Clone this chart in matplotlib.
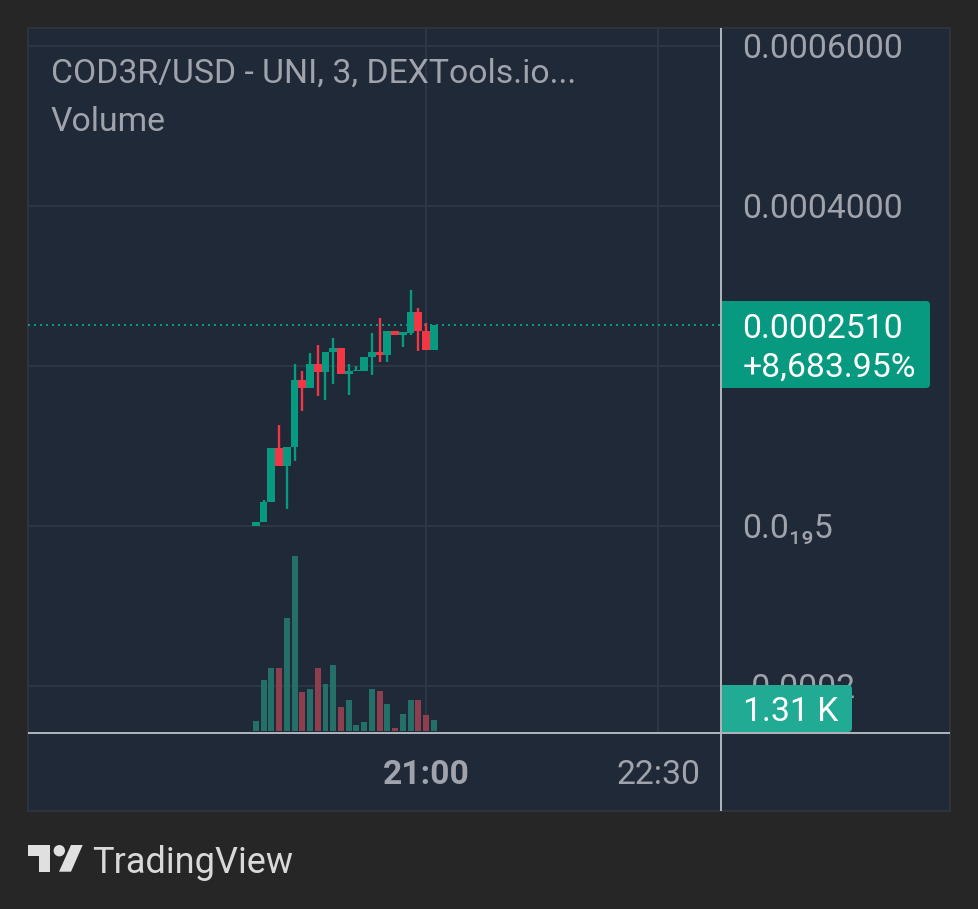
"""
Recreates a TradingView mini chart (COD3R/USD candles and volume).
"""
import matplotlib
matplotlib.use('Agg')
import matplotlib.pyplot as plt
import matplotlib.patches as mpatches

# Candle data, prices in millionths of a USD
times = ['19:54', '19:57', '20:00', '20:03', '20:06', '20:09', '20:12', '20:15',
         '20:18', '20:21', '20:24', '20:27', '20:30', '20:33', '20:36', '20:39',
         '20:42', '20:45', '20:48', '20:51', '20:54', '20:57', '21:00', '21:03']
opens = [0, 4.2, 29.2, 97.5, 74.2, 97.9, 182.5, 171.7, 202.5, 191.7, 216.7, 222.5,
         189.2, 192.9, 192.9, 210.4, 217.5, 212.9, 243.75, 237.9, 241.25, 267.5, 243.3, 219.2]
highs = [4.6, 32.1, 97.5, 126.25, 98.75, 202.1, 193.75, 215.8, 226.25, 217.5, 235, 222.5,
         202.1, 200, 211.25, 241.25, 260, 243.75, 243.75, 242.5, 295, 272.1, 253.3, 250.8]
lows = [0, 4.2, 29.2, 74.2, 21.25, 81.25, 142.9, 171.7, 161.7, 156.7, 176.7, 189.2,
        163.75, 192.9, 192.9, 188.75, 205, 205, 237.9, 223.75, 238.3, 217.9, 219.2, 219.2]
closes = [4.6, 30, 97.5, 74.2, 98.75, 182.5, 171.7, 202.5, 191.7, 217.5, 222.5, 189.2,
          192.9, 195, 211.25, 217.5, 212.9, 243.75, 237.9, 242.5, 267.5, 243.3, 219.2, 250.8]
# Volume in thousands
volumes = [1.2, 5.95, 7.34, 7.34, 13.14, 20.3, 4.56, 4.91, 7.34, 5.49, 7.69, 2.82,
           3.63, 0.73, 1.08, 4.91, 4.67, 3.17, 0.38, 2.0, 3.63, 3.63, 1.89, 1.31]

# Axis labels
price_ticks = [600, 400, 200, 0, -200]
price_labels = ['0.0006000', '0.0004000', '', '0.0\u2081\u20895', '-0.0002']
time_ticks = ['21:00', '22:30']
last_price = 251
last_price_text = '0.0002510'
last_change_text = '+8,683.95%'
last_volume_text = '1.31 K'

# Colours
bgColour = '#262626'
paneColour = '#1f2937'
borderColour = '#303641'
gridColour = '#2e3744'
lineColour = '#b2b5be'
textColour = '#a0a3ab'
upColour = '#089981'
downColour = '#f23645'
upVolColour = '#256f69'
downVolColour = '#8d3f50'
fontSize = 24.3

plt.rcParams['font.family'] = ['Roboto', 'DejaVu Sans']

W, H = 978, 909
fig = plt.figure(figsize=((W + 0.01) / 100, (H + 0.01) / 100), dpi=100, facecolor=bgColour)


def minutes(t):
    return int(t[:2]) * 60 + int(t[3:])


def pixel_axes(zorder):
    a = fig.add_axes([0, 0, 1, 1], zorder=zorder)
    a.set_xlim(0, W)
    a.set_ylim(H, 0)
    a.axis('off')
    return a


back = pixel_axes(0)
back.add_patch(mpatches.Rectangle((28, 28), 922, 783, facecolor=paneColour,
                                  edgecolor=borderColour, linewidth=1.2))

# Price pane, 160 px per 200 units with zero at y=525
left, right, top, bottom = 28, 720, 28.7, 733.7
ax = fig.add_axes([left / W, (H - bottom) / H, (right - left) / W, (bottom - top) / H], zorder=1)
ax.patch.set_alpha(0)
ax.set_ylim(-260, 621.25)
ax.set_xlim(1105.6, 1374.05)
for s in ax.spines.values():
    s.set_visible(False)

x = [minutes(t) for t in times]
for i in range(len(x)):
    colour = upColour if closes[i] >= opens[i] else downColour
    ax.vlines(x[i], lows[i], highs[i], color=colour, linewidth=1.7, zorder=3)
    ax.bar(x[i], abs(closes[i] - opens[i]), bottom=min(opens[i], closes[i]), width=3.0,
           color=colour, linewidth=0, zorder=4)

ax.axhline(last_price, color=upColour, linewidth=1.44, linestyle=(0, (1, 2)), zorder=2)

ax.set_xticks([minutes(t) for t in time_ticks])
ax.set_xticklabels(time_ticks, fontsize=fontSize, color=textColour)
ax.get_xticklabels()[0].set_fontweight('bold')
ax.tick_params(axis='x', length=0, pad=18.5)
ax.grid(True, color=gridColour, linewidth=1.4, zorder=0)
ax.set_axisbelow(True)

# Volume pane on the same x axis
vol = ax.twinx()
vol.patch.set_alpha(0)
vol.set_ylim(-0.313, 81.47)
vol.set_yticks([])
for s in vol.spines.values():
    s.set_visible(False)
vol_colours = [upVolColour if c >= o else downVolColour for o, c in zip(opens, closes)]
vol.bar(x, volumes, width=2.3, color=vol_colours, linewidth=0)

# twinx puts the price ticks back on the left, so set them up after it
ax.yaxis.tick_right()
ax.set_yticks(price_ticks)
ax.set_yticklabels(price_labels, fontsize=fontSize, color=textColour, ha='left')
ax.tick_params(axis='y', length=0, pad=16)

# Overlay in pixels: scale lines, tags, titles, logo
top_ax = pixel_axes(2)
top_ax.plot([721, 721], [28, 811], color=lineColour, linewidth=1.4, solid_capstyle='butt')
top_ax.plot([28, 950], [733, 733], color=lineColour, linewidth=1.4, solid_capstyle='butt')

top_ax.text(51, 74, 'COD3R/USD - UNI, 3, DEXTools.io...', fontsize=fontSize, color=textColour, va='center')
top_ax.text(51, 122, 'Volume', fontsize=fontSize, color=textColour, va='center')


def tag(x0, y0, x1, y1, colour):
    top_ax.add_patch(mpatches.FancyBboxPatch((x0 + 6, y0 + 4), x1 - x0 - 10, y1 - y0 - 8,
                                             boxstyle='round,pad=4,rounding_size=4',
                                             facecolor=colour, edgecolor='none',
                                             mutation_aspect=1))
    top_ax.add_patch(mpatches.Rectangle((x0, y0), 12, y1 - y0, facecolor=colour, edgecolor='none'))


tag(722, 301, 930, 388, upColour)
top_ax.text(742.5, 329, last_price_text, fontsize=fontSize, color='white', va='center')
top_ax.text(743, 368, last_change_text, fontsize=fontSize, color='white', va='center')
tag(722, 685, 852, 732, '#22ab94')
top_ax.text(743, 712, last_volume_text, fontsize=fontSize, color='white', va='center')

# TradingView logo
logo = '#e0e0e0'
top_ax.add_patch(mpatches.Polygon([(28.3, 845), (50, 845), (50, 871.7), (39, 871.7), (39, 856), (28.3, 856)],
                                  facecolor=logo, edgecolor='none'))
top_ax.add_patch(mpatches.Circle((59.3, 850.7), 5.7, facecolor=logo, edgecolor='none'))
top_ax.add_patch(mpatches.Polygon([(71, 845), (82.7, 845), (71, 871.7), (59, 871.7)],
                                  facecolor=logo, edgecolor='none'))
top_ax.text(92, 863, 'TradingView', fontsize=26, color='#d9d9d9', va='center')

fig.savefig('out.png', dpi=100, facecolor=bgColour)
